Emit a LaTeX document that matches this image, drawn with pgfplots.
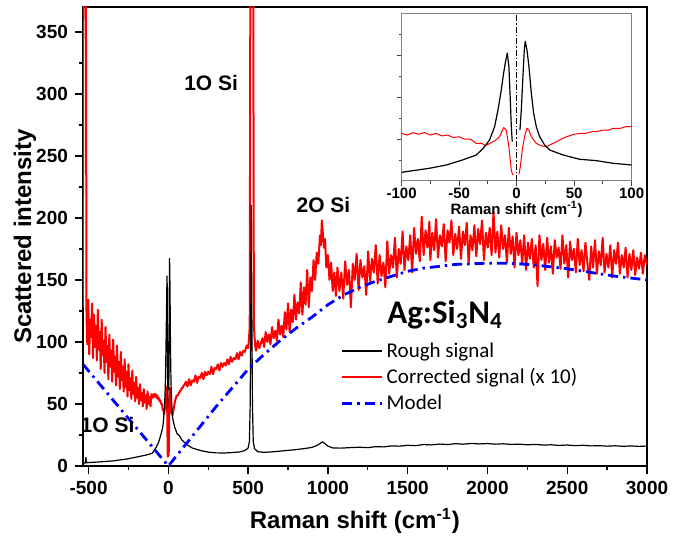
\documentclass[border=0pt]{standalone}
\usepackage{fontspec}
\setmainfont{Liberation Sans}
\newfontfamily\calibri{Carlito}
\usepackage{pgfplots}
\pgfplotsset{compat=1.18}
\usepackage{pgfplotstable}

% corrected signal (x 10)
\pgfplotstableread[row sep=\\]{
x y\\
-550 162\\ -545 92\\ -540 150\\ -536 128\\ -533 400\\ -517 400\\ -513 120\\
-508 98\\ -502 134\\ -496 90\\ -490 118\\ -484 104\\ -478 131\\ -472 87\\ -466 122\\ -460 96\\ -454 113\\
-448 85\\ -442 126\\ -436 94\\ -430 108\\ -424 78\\ -418 118\\ -412 89\\ -406 101\\ -400 75\\ -394 112\\
-388 84\\ -382 97\\ -376 70\\ -370 106\\ -364 80\\ -358 93\\ -352 68\\ -346 102\\ -340 76\\ -334 88\\
-328 65\\ -322 97\\ -316 72\\ -310 84\\ -304 62\\ -298 92\\ -292 69\\ -286 80\\ -280 60\\ -274 86\\
-268 64\\ -262 76\\ -256 56\\ -250 82\\ -244 61\\ -238 71\\ -232 54\\ -226 77\\ -220 58\\ -214 67\\
-208 52\\ -202 72\\ -196 55\\ -190 63\\ -184 50\\ -178 66\\ -172 53\\ -166 59\\ -160 48\\ -154 62\\
-148 51\\ -142 57\\ -136 46\\ -130 60\\ -124 50\\ -118 56\\ -112 48\\ -106 58\\
-100 57\\ -95 55\\ -90 58\\ -85 56\\ -80 58\\ -75 55\\ -70 57\\ -65 54\\ -60 55\\ -55 52\\
-50 53\\ -45 50\\ -40 50\\ -35 45\\ -30 45\\ -27 42\\ -23.5 45\\ -19 48\\ -14.8 53\\ -11.3 64\\
-9 61\\ -6.7 41\\ -5.5 25\\ -4.6 13\\ -3.8 9\\ -3 7\\ 0 nan\\ 2 8\\ 3.2 17\\ 4.9 37\\ 6.9 53\\ 9 63\\
10.7 61\\ 12.8 53\\ 17.1 45\\ 21.5 42\\ 25.9 41\\ 30 44\\ 34.6 47\\ 40 51\\ 43.3 53\\ 50 56\\
54.8 57\\ 60 57\\ 65 59\\ 69.3 59\\ 75 61\\ 80 61\\ 83.8 63\\ 90 63\\ 95 65\\ 99.7 65\\
110 68\\ 120 64\\ 130 70\\ 140 65\\ 150 69\\ 160 68\\ 170 73\\ 180 67\\ 190 72\\ 200 71\\
210 75\\ 220 70\\ 230 76\\ 240 73\\ 250 76\\ 260 74\\ 270 80\\ 280 74\\ 290 79\\ 300 78\\
310 82\\ 320 77\\ 330 83\\ 340 80\\ 350 83\\ 360 81\\ 370 86\\ 380 82\\ 390 88\\ 400 84\\
410 87\\ 420 86\\ 430 91\\ 440 86\\ 450 92\\ 460 89\\ 470 93\\ 480 92\\ 490 97\\ 500 95\\
505 102\\ 510 112\\ 514 400\\ 532 400\\ 536 115\\ 540 104\\ 545 96\\
550 93\\ 560 101\\ 570 95\\ 580 99\\ 590 103\\ 600 96\\ 610 108\\ 620 100\\ 630 106\\ 640 98\\
650 112\\ 660 103\\ 670 109\\ 680 101\\ 690 118\\ 700 106\\ 710 113\\ 720 104\\ 730 124\\ 740 110\\
750 131\\ 760 108\\ 770 126\\ 780 116\\ 790 138\\ 800 118\\ 810 132\\ 820 123\\ 830 148\\ 840 122\\
850 144\\ 860 130\\ 870 158\\ 880 128\\ 890 152\\ 900 141\\ 910 166\\ 920 150\\ 930 172\\ 940 163\\
950 186\\ 956 178\\ 962 198\\ 968 188\\ 975 176\\ 982 183\\ 990 160\\ 1000 170\\ 1010 150\\ 1020 164\\
1030 141\\ 1040 156\\ 1050 137\\
1060 160\\ 1072 141\\ 1084 156\\ 1096 135\\ 1108 165\\ 1120 146\\ 1132 158\\ 1144 128\\ 1156 163\\ 1168 150\\
1180 171\\ 1192 142\\ 1204 166\\ 1216 152\\ 1228 161\\ 1240 138\\ 1252 173\\ 1264 149\\ 1276 167\\ 1288 156\\
1300 178\\ 1312 147\\ 1324 170\\ 1336 153\\ 1348 164\\ 1360 144\\ 1372 181\\ 1384 155\\ 1396 170\\ 1408 160\\
1420 184\\ 1432 152\\ 1444 175\\ 1456 163\\ 1468 189\\ 1480 158\\ 1492 177\\ 1504 166\\ 1516 186\\ 1528 156\\
1540 192\\ 1552 171\\ 1564 183\\ 1576 165\\ 1588 201\\ 1600 170\\ 1612 190\\ 1624 176\\ 1636 197\\ 1642 166\\
1654 188\\ 1666 174\\ 1678 199\\ 1690 168\\ 1702 186\\ 1714 177\\ 1726 195\\ 1738 165\\ 1750 190\\ 1762 180\\
1774 198\\ 1786 170\\ 1798 187\\ 1810 175\\ 1822 193\\ 1834 167\\ 1846 189\\ 1858 178\\ 1870 196\\ 1882 163\\
1894 186\\ 1906 174\\ 1918 194\\ 1930 169\\ 1942 191\\ 1954 179\\ 1966 198\\ 1978 166\\ 1990 188\\ 2002 176\\
2014 192\\ 2026 170\\ 2038 205\\ 2050 172\\ 2062 189\\ 2074 168\\ 2086 194\\ 2098 175\\ 2110 186\\ 2122 164\\
2134 192\\ 2146 171\\ 2158 185\\ 2170 160\\ 2182 188\\ 2194 170\\ 2206 182\\ 2218 163\\ 2230 186\\ 2242 158\\
2254 180\\ 2266 167\\ 2278 183\\ 2290 160\\ 2302 178\\ 2314 145\\ 2326 186\\ 2338 166\\ 2350 179\\ 2362 158\\
2374 184\\ 2386 164\\ 2398 177\\ 2410 155\\ 2422 182\\ 2434 168\\ 2446 176\\ 2458 159\\ 2470 186\\ 2482 163\\
2494 178\\ 2506 152\\ 2518 181\\ 2530 166\\ 2542 175\\ 2554 156\\ 2566 183\\ 2578 162\\ 2590 174\\ 2602 157\\
2614 180\\ 2626 164\\ 2638 150\\ 2650 177\\ 2662 160\\ 2674 182\\ 2686 155\\ 2698 173\\ 2710 162\\ 2722 184\\
2734 156\\ 2746 171\\ 2758 160\\ 2770 178\\ 2782 152\\ 2794 174\\ 2806 163\\ 2818 180\\ 2830 155\\ 2842 170\\
2854 160\\ 2866 176\\ 2878 152\\ 2890 171\\ 2902 158\\ 2914 174\\ 2926 154\\ 2938 168\\ 2950 159\\ 2962 172\\
2974 155\\ 2986 170\\ 3000 162\\
}\corrtab

% rough signal
\pgfplotstableread[row sep=\\]{
x y\\
-550 2\\ -530 2.3\\ -520 2.5\\ -517 7\\ -514 2.6\\ -500 2.8\\ -470 3\\ -440 3.2\\ -400 3.6\\ -370 3.9\\
-340 4.2\\ -300 5\\ -270 5.4\\ -240 6.2\\ -200 7.2\\ -170 8\\ -140 8.8\\ -120 9.5\\
-100 10.4\\ -76 15.2\\ -61 19.2\\ -47 25.2\\ -35 31.2\\ -29 39.2\\ -23.5 49.2\\ -19.1 65.2\\ -16.2 85.2\\
-13.3 109.2\\ -11.3 129.2\\ -9.6 143.2\\ -8.1 153.2\\ -6.7 137.2\\ -5.5 97.2\\ -4.6 65.2\\ -3.8 47.2\\
0 nan\\ 2.9 61.2\\ 4.1 85.2\\ 5.5 125.2\\ 6.7 157.2\\ 7.5 167.2\\ 9 157.2\\ 10.7 137.2\\ 12.8 105.2\\
14.8 81.2\\ 17.1 65.2\\ 20 53.2\\ 24.3 43.2\\ 28.7 37.2\\ 40.3 31.2\\ 54.8 26\\ 69.3 24.4\\ 83.8 21.2\\ 99.7 19.2\\
120 17\\ 150 14.5\\ 200 12.5\\ 250 11.2\\ 300 10.6\\ 350 10.5\\ 400 10.8\\ 450 11.4\\ 480 12.5\\ 500 14.5\\
508 20\\ 513 50\\ 517 130\\ 520 210\\ 523 130\\ 527 50\\ 532 20\\ 540 14\\ 560 11.5\\ 600 11\\
650 11.4\\ 700 12\\ 750 12.6\\ 800 13.2\\ 850 14\\ 900 15\\ 930 16.5\\ 950 18\\ 965 19.5\\ 980 18.2\\
1000 16\\ 1030 14.6\\ 1080 14.4\\ 1150 14.9\\ 1200 15.1\\ 1250 14.8\\ 1300 15.6\\ 1350 15.4\\ 1400 16.2\\ 1450 16\\
1500 16.7\\ 1550 16.4\\ 1600 17.3\\ 1650 17\\ 1700 17.7\\ 1750 17.3\\ 1800 18\\ 1850 17.6\\ 1900 18.2\\ 1950 17.8\\
2000 18.1\\ 2050 17.6\\ 2100 17.9\\ 2150 17.4\\ 2200 17.6\\ 2250 17.1\\ 2300 17.4\\ 2350 16.9\\ 2400 17.1\\ 2450 16.6\\
2500 16.9\\ 2550 16.4\\ 2600 16.7\\ 2650 16.2\\ 2700 16.4\\ 2750 16\\ 2800 16.3\\ 2850 15.9\\ 2900 16.2\\ 2950 15.8\\
3000 16.1\\
}\roughtab

% model
\pgfplotstableread[row sep=\\]{
x y\\
-535 82\\ 0 0\\ 100 16\\ 200 32\\ 300 48\\ 400 63\\ 500 78\\ 600 90\\ 700 101\\ 800 111\\ 900 120\\
1000 130\\ 1100 138\\ 1200 144\\ 1300 149\\ 1400 153\\ 1500 157\\ 1600 159.5\\ 1700 161\\ 1800 162.5\\
1900 163\\ 2000 163.5\\ 2100 163.5\\ 2200 163\\ 2300 162\\ 2400 160.5\\ 2500 159\\ 2600 157\\ 2700 155\\
2800 153\\ 2900 151.5\\ 3000 150\\
}\modeltab

\begin{document}
\begin{tikzpicture}
\begin{axis}[at={(0,0)}, anchor=south west,
  scale only axis, width=282pt, height=229.5pt,
  xmin=-535, xmax=3000, ymin=0, ymax=370,
  xtick={-500,0,...,3000}, ytick={0,50,...,350},
  minor x tick num=1, minor y tick num=1,
  tick align=outside, xtick pos=bottom, ytick pos=left,
  major tick length=4pt, minor tick length=2.2pt,
  every tick/.style={black, line width=0.7pt},
  axis line style={line width=1pt},
  /pgf/number format/assume math mode=true,
  /pgf/number format/1000 sep={},
  tick label style={font=\bfseries\fontsize{9.5}{11}\selectfont},
  xlabel={Raman shift (cm\textsuperscript{-1})},
  ylabel={Scattered intensity},
  label style={font=\bfseries\fontsize{12}{14}\selectfont},
  xlabel style={at={(axis description cs:0.482,-0.1198)}, anchor=center},
  ylabel style={at={(axis description cs:-0.1028,0.5)}, anchor=center},
  unbounded coords=jump,
  legend cell align=left,
  legend image code/.code={\draw[#1] (0pt,0pt) -- (20pt,0pt);},
  legend style={at={(axis description cs:0.446,0.285)}, anchor=north west,
    draw=none, fill=none, font=\calibri\fontsize{10.5}{12}\selectfont,
    row sep=1pt, nodes={inner sep=1.5pt}},
]
\addlegendimage{draw=black, line width=0.9pt}
\addlegendentry{Rough signal}
\addlegendimage{draw=red, line width=0.9pt}
\addlegendentry{Corrected signal (x 10)}
\addlegendimage{draw=blue, line width=1.4pt, dash pattern=on 5pt off 2.5pt on 1.2pt off 2.5pt}
\addlegendentry{Model}
\addplot[red, line width=1pt, line join=round, forget plot] table[x=x, y=y] {\corrtab};
\addplot[black, line width=0.6pt, line join=round, forget plot] table[x=x, y=y] {\roughtab};
\addplot[blue, line width=1.4pt, dash pattern=on 5pt off 2.5pt on 1.2pt off 2.5pt, forget plot] table[x=x, y=y] {\modeltab};
\node[font=\bfseries\fontsize{10.5}{12}\selectfont] at (axis cs:268,309) {1O Si};
\node[font=\bfseries\fontsize{10.5}{12}\selectfont] at (axis cs:972,210) {2O Si};
\node[font=\bfseries\fontsize{10.5}{12}\selectfont] at (axis cs:-381,33) {1O Si};
\node[anchor=base west, inner sep=0pt, font=\calibri\bfseries\fontsize{16.5}{18}\selectfont] at (axis cs:1370,115) {Ag:Si\textsubscript{3}N\textsubscript{4}};
\end{axis}
\begin{axis}[at={(159.3pt,142.5pt)}, anchor=south west,
  scale only axis, width=115pt, height=83.5pt,
  xmin=-100, xmax=100, ymin=0, ymax=200,
  xtick={-100,-50,0,50,100}, minor xtick={-75,-25,25,75},
  ytick={50,100,150}, minor ytick={25,75,125,175}, yticklabels={},
  tick align=outside, xtick pos=bottom, ytick pos=left,
  major tick length=2.5pt, minor tick length=1.5pt,
  every tick/.style={darkgray, line width=0.4pt},
  axis line style={gray, line width=0.5pt},
  axis background/.style={fill=white},
  /pgf/number format/assume math mode=true,
  tick label style={font=\bfseries\fontsize{7.5}{9}\selectfont},
  xticklabel style={yshift=2.5pt},
  xlabel={Raman shift (cm\textsuperscript{-1})},
  xlabel style={font=\bfseries\fontsize{7.5}{9}\selectfont, at={(axis description cs:0.5,-0.168)}, anchor=center},
  unbounded coords=jump,
]
\addplot[red, line width=0.5pt, line join=round] table[x=x, y=y] {\corrtab};
\addplot[black, line width=0.6pt, line join=round] table[x=x, y=y] {\roughtab};
\addplot[black, line width=0.5pt, dash pattern=on 3pt off 1pt on 0.7pt off 1pt] coordinates {(0,0) (0,200)};
\end{axis}
\pgfresetboundingbox
\path[use as bounding box] (-41.5pt,-37.5pt) rectangle (300.5pt,233pt);
\end{tikzpicture}
\end{document}
